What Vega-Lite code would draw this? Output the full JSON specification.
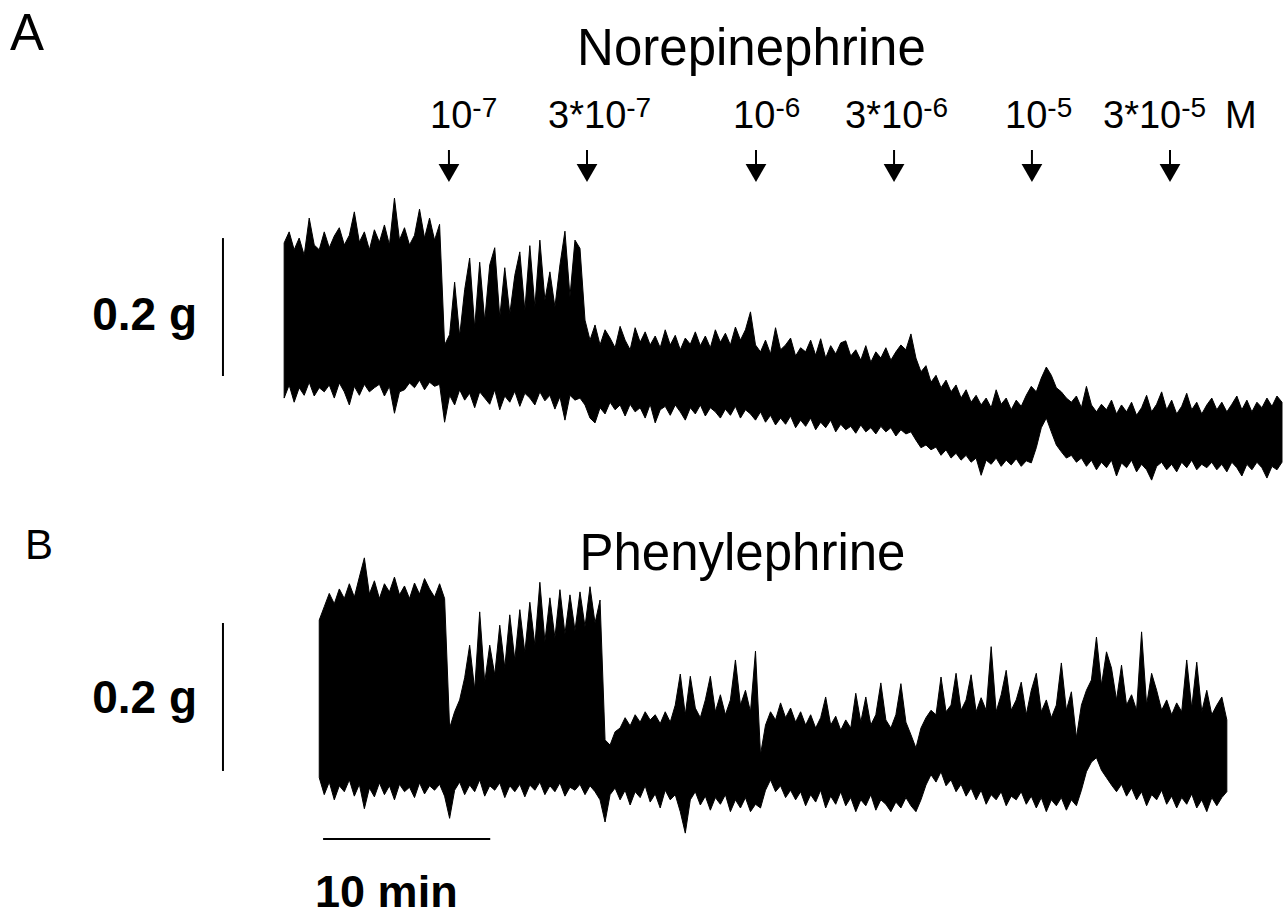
{
"$schema": "https://vega.github.io/schema/vega-lite/v6.json",
"background": "white",
"padding": 0,
"bounds": "flush",
"spacing": 0,
"config": {"view": {"stroke": null}, "font": "Liberation Sans"},
"datasets": {
"traceA": [
{"t":0,"hi":193,"lo":-32},{"t":0.3,"hi":209,"lo":-13},{"t":0.6,"hi":183,"lo":-38},{"t":0.9,"hi":200,"lo":-17},{"t":1.2,"hi":175,"lo":-28},{"t":1.5,"hi":229,"lo":-9},{"t":1.8,"hi":190,"lo":-29},{"t":2.1,"hi":183,"lo":-17},{"t":2.4,"hi":209,"lo":-23},{"t":2.7,"hi":186,"lo":-13},
{"t":3.0,"hi":203,"lo":-32},{"t":3.3,"hi":215,"lo":-10},{"t":3.6,"hi":190,"lo":-23},{"t":3.9,"hi":204,"lo":-42},{"t":4.2,"hi":238,"lo":-15},{"t":4.5,"hi":194,"lo":-28},{"t":4.8,"hi":209,"lo":-12},{"t":5.1,"hi":183,"lo":-23},{"t":5.4,"hi":212,"lo":-17},{"t":5.7,"hi":194,"lo":-12},
{"t":6.0,"hi":219,"lo":-29},{"t":6.3,"hi":190,"lo":-15},{"t":6.6,"hi":258,"lo":-54},{"t":6.9,"hi":197,"lo":-23},{"t":7.2,"hi":215,"lo":-20},{"t":7.5,"hi":190,"lo":-10},{"t":7.8,"hi":204,"lo":-17},{"t":8.1,"hi":242,"lo":-6},{"t":8.4,"hi":200,"lo":-20},{"t":8.7,"hi":229,"lo":-9},
{"t":9.0,"hi":197,"lo":-15},{"t":9.3,"hi":220,"lo":-12},{"t":9.6,"hi":45,"lo":-67},{"t":9.9,"hi":60,"lo":-28},{"t":10.2,"hi":136,"lo":-42},{"t":10.5,"hi":58,"lo":-20},{"t":10.8,"hi":125,"lo":-35},{"t":11.1,"hi":171,"lo":-25},{"t":11.4,"hi":70,"lo":-46},{"t":11.7,"hi":165,"lo":-23},
{"t":12.0,"hi":80,"lo":-32},{"t":12.3,"hi":161,"lo":-41},{"t":12.6,"hi":186,"lo":-20},{"t":12.9,"hi":85,"lo":-49},{"t":13.2,"hi":157,"lo":-29},{"t":13.5,"hi":90,"lo":-38},{"t":13.8,"hi":146,"lo":-22},{"t":14.1,"hi":180,"lo":-44},{"t":14.4,"hi":95,"lo":-25},{"t":14.7,"hi":189,"lo":-32},
{"t":15.0,"hi":100,"lo":-42},{"t":15.3,"hi":197,"lo":-23},{"t":15.6,"hi":110,"lo":-36},{"t":15.9,"hi":151,"lo":-28},{"t":16.2,"hi":100,"lo":-48},{"t":16.5,"hi":161,"lo":-30},{"t":16.8,"hi":210,"lo":-64},{"t":17.1,"hi":115,"lo":-28},{"t":17.4,"hi":197,"lo":-35},{"t":17.7,"hi":185,"lo":-32},
{"t":18.0,"hi":81,"lo":-42},{"t":18.3,"hi":52,"lo":-61},{"t":18.6,"hi":74,"lo":-68},{"t":18.9,"hi":45,"lo":-46},{"t":19.2,"hi":67,"lo":-55},{"t":19.5,"hi":55,"lo":-38},{"t":19.8,"hi":41,"lo":-49},{"t":20.1,"hi":72,"lo":-42},{"t":20.4,"hi":52,"lo":-58},{"t":20.7,"hi":38,"lo":-41},
{"t":21.0,"hi":70,"lo":-52},{"t":21.3,"hi":49,"lo":-46},{"t":21.6,"hi":64,"lo":-61},{"t":21.9,"hi":45,"lo":-41},{"t":22.2,"hi":58,"lo":-68},{"t":22.5,"hi":41,"lo":-49},{"t":22.8,"hi":67,"lo":-44},{"t":23.1,"hi":45,"lo":-57},{"t":23.4,"hi":59,"lo":-42},{"t":23.7,"hi":38,"lo":-52},
{"t":24.0,"hi":55,"lo":-64},{"t":24.3,"hi":46,"lo":-46},{"t":24.6,"hi":64,"lo":-55},{"t":24.9,"hi":44,"lo":-42},{"t":25.2,"hi":58,"lo":-58},{"t":25.5,"hi":41,"lo":-46},{"t":25.8,"hi":67,"lo":-52},{"t":26.1,"hi":49,"lo":-61},{"t":26.4,"hi":62,"lo":-48},{"t":26.7,"hi":45,"lo":-57},
{"t":27.0,"hi":71,"lo":-44},{"t":27.3,"hi":52,"lo":-61},{"t":27.6,"hi":67,"lo":-49},{"t":27.9,"hi":93,"lo":-55},{"t":28.2,"hi":45,"lo":-64},{"t":28.5,"hi":35,"lo":-52},{"t":28.8,"hi":52,"lo":-67},{"t":29.1,"hi":32,"lo":-57},{"t":29.4,"hi":70,"lo":-71},{"t":29.7,"hi":38,"lo":-61},
{"t":30.0,"hi":45,"lo":-70},{"t":30.3,"hi":55,"lo":-58},{"t":30.6,"hi":29,"lo":-75},{"t":30.9,"hi":41,"lo":-64},{"t":31.2,"hi":35,"lo":-73},{"t":31.5,"hi":52,"lo":-61},{"t":31.8,"hi":30,"lo":-78},{"t":32.1,"hi":54,"lo":-67},{"t":32.4,"hi":26,"lo":-75},{"t":32.7,"hi":44,"lo":-64},
{"t":33.0,"hi":32,"lo":-81},{"t":33.3,"hi":48,"lo":-70},{"t":33.6,"hi":51,"lo":-78},{"t":33.9,"hi":29,"lo":-73},{"t":34.2,"hi":38,"lo":-83},{"t":34.5,"hi":23,"lo":-71},{"t":34.8,"hi":44,"lo":-81},{"t":35.1,"hi":20,"lo":-75},{"t":35.4,"hi":35,"lo":-84},{"t":35.7,"hi":26,"lo":-73},
{"t":36.0,"hi":41,"lo":-81},{"t":36.3,"hi":23,"lo":-75},{"t":36.6,"hi":35,"lo":-87},{"t":36.9,"hi":45,"lo":-78},{"t":37.2,"hi":38,"lo":-84},{"t":37.5,"hi":61,"lo":-81},{"t":37.8,"hi":26,"lo":-93},{"t":38.1,"hi":6,"lo":-104},{"t":38.4,"hi":15,"lo":-100},{"t":38.7,"hi":-9,"lo":-107},
{"t":39.0,"hi":1,"lo":-103},{"t":39.3,"hi":-17,"lo":-115},{"t":39.6,"hi":-6,"lo":-107},{"t":39.9,"hi":-23,"lo":-119},{"t":40.2,"hi":-13,"lo":-112},{"t":40.5,"hi":-32,"lo":-122},{"t":40.8,"hi":-20,"lo":-115},{"t":41.1,"hi":-38,"lo":-125},{"t":41.4,"hi":-28,"lo":-119},{"t":41.7,"hi":-42,"lo":-144},
{"t":42.0,"hi":-32,"lo":-122},{"t":42.3,"hi":-46,"lo":-128},{"t":42.6,"hi":-20,"lo":-119},{"t":42.9,"hi":-41,"lo":-131},{"t":43.2,"hi":-32,"lo":-122},{"t":43.5,"hi":-49,"lo":-129},{"t":43.8,"hi":-35,"lo":-120},{"t":44.1,"hi":-44,"lo":-131},{"t":44.4,"hi":-28,"lo":-123},{"t":44.7,"hi":-15,"lo":-126},
{"t":45.0,"hi":-23,"lo":-104},{"t":45.3,"hi":-3,"lo":-75},{"t":45.6,"hi":13,"lo":-61},{"t":45.9,"hi":1,"lo":-81},{"t":46.2,"hi":-17,"lo":-100},{"t":46.5,"hi":-23,"lo":-110},{"t":46.8,"hi":-32,"lo":-119},{"t":47.1,"hi":-38,"lo":-115},{"t":47.4,"hi":-29,"lo":-125},{"t":47.7,"hi":-46,"lo":-119},
{"t":48.0,"hi":-15,"lo":-131},{"t":48.3,"hi":-42,"lo":-122},{"t":48.6,"hi":-52,"lo":-136},{"t":48.9,"hi":-41,"lo":-125},{"t":49.2,"hi":-49,"lo":-133},{"t":49.5,"hi":-35,"lo":-122},{"t":49.8,"hi":-55,"lo":-145},{"t":50.1,"hi":-42,"lo":-126},{"t":50.4,"hi":-52,"lo":-133},{"t":50.7,"hi":-38,"lo":-122},
{"t":51.0,"hi":-57,"lo":-139},{"t":51.3,"hi":-46,"lo":-128},{"t":51.6,"hi":-28,"lo":-136},{"t":51.9,"hi":-52,"lo":-151},{"t":52.2,"hi":-41,"lo":-131},{"t":52.5,"hi":-23,"lo":-125},{"t":52.8,"hi":-49,"lo":-136},{"t":53.1,"hi":-35,"lo":-128},{"t":53.4,"hi":-55,"lo":-139},{"t":53.7,"hi":-44,"lo":-125},
{"t":54.0,"hi":-25,"lo":-133},{"t":54.3,"hi":-49,"lo":-122},{"t":54.6,"hi":-38,"lo":-136},{"t":54.9,"hi":-55,"lo":-128},{"t":55.2,"hi":-42,"lo":-133},{"t":55.5,"hi":-32,"lo":-125},{"t":55.8,"hi":-49,"lo":-136},{"t":56.1,"hi":-38,"lo":-128},{"t":56.4,"hi":-52,"lo":-139},{"t":56.7,"hi":-41,"lo":-125},
{"t":57.0,"hi":-29,"lo":-133},{"t":57.3,"hi":-49,"lo":-145},{"t":57.6,"hi":-35,"lo":-128},{"t":57.9,"hi":-52,"lo":-136},{"t":58.2,"hi":-38,"lo":-125},{"t":58.5,"hi":-46,"lo":-133},{"t":58.8,"hi":-32,"lo":-148},{"t":59.1,"hi":-44,"lo":-131},{"t":59.4,"hi":-29,"lo":-136},{"t":59.7,"hi":-38,"lo":-125}
],
"traceB": [
{"t":2.1,"hi":204,"lo":-9},{"t":2.4,"hi":222,"lo":-32},{"t":2.7,"hi":240,"lo":-15},
{"t":3.0,"hi":226,"lo":-39},{"t":3.3,"hi":246,"lo":-20},{"t":3.6,"hi":233,"lo":-28},{"t":3.9,"hi":253,"lo":-12},{"t":4.2,"hi":235,"lo":-34},{"t":4.5,"hi":262,"lo":-18},{"t":4.8,"hi":288,"lo":-51},{"t":5.1,"hi":239,"lo":-23},{"t":5.4,"hi":257,"lo":-35},{"t":5.7,"hi":233,"lo":-16},
{"t":6.0,"hi":253,"lo":-32},{"t":6.3,"hi":242,"lo":-20},{"t":6.6,"hi":262,"lo":-39},{"t":6.9,"hi":238,"lo":-18},{"t":7.2,"hi":250,"lo":-28},{"t":7.5,"hi":233,"lo":-22},{"t":7.8,"hi":254,"lo":-36},{"t":8.1,"hi":239,"lo":-16},{"t":8.4,"hi":260,"lo":-31},{"t":8.7,"hi":246,"lo":-20},
{"t":9.0,"hi":235,"lo":-26},{"t":9.3,"hi":253,"lo":-18},{"t":9.6,"hi":233,"lo":-34},{"t":9.9,"hi":58,"lo":-64},{"t":10.2,"hi":80,"lo":-26},{"t":10.5,"hi":96,"lo":-15},{"t":10.8,"hi":126,"lo":-32},{"t":11.1,"hi":170,"lo":-19},{"t":11.4,"hi":110,"lo":-28},{"t":11.7,"hi":215,"lo":-12},
{"t":12.0,"hi":120,"lo":-34},{"t":12.3,"hi":170,"lo":-20},{"t":12.6,"hi":130,"lo":-26},{"t":12.9,"hi":197,"lo":-16},{"t":13.2,"hi":140,"lo":-36},{"t":13.5,"hi":211,"lo":-20},{"t":13.8,"hi":150,"lo":-28},{"t":14.1,"hi":218,"lo":-18},{"t":14.4,"hi":160,"lo":-35},{"t":14.7,"hi":228,"lo":-19},
{"t":15.0,"hi":170,"lo":-26},{"t":15.3,"hi":255,"lo":-15},{"t":15.6,"hi":175,"lo":-32},{"t":15.9,"hi":234,"lo":-20},{"t":16.2,"hi":180,"lo":-28},{"t":16.5,"hi":245,"lo":-16},{"t":16.8,"hi":185,"lo":-34},{"t":17.1,"hi":238,"lo":-22},{"t":17.4,"hi":190,"lo":-26},{"t":17.7,"hi":242,"lo":-18},
{"t":18.0,"hi":195,"lo":-32},{"t":18.3,"hi":249,"lo":-20},{"t":18.6,"hi":200,"lo":-28},{"t":18.9,"hi":231,"lo":-39},{"t":19.2,"hi":42,"lo":-69},{"t":19.5,"hi":35,"lo":-32},{"t":19.8,"hi":53,"lo":-23},{"t":20.1,"hi":58,"lo":-39},{"t":20.4,"hi":72,"lo":-26},{"t":20.7,"hi":61,"lo":-46},
{"t":21.0,"hi":76,"lo":-28},{"t":21.3,"hi":66,"lo":-36},{"t":21.6,"hi":80,"lo":-20},{"t":21.9,"hi":69,"lo":-42},{"t":22.2,"hi":76,"lo":-31},{"t":22.5,"hi":64,"lo":-50},{"t":22.8,"hi":80,"lo":-26},{"t":23.1,"hi":66,"lo":-39},{"t":23.4,"hi":89,"lo":-32},{"t":23.7,"hi":131,"lo":-55},
{"t":24.0,"hi":76,"lo":-84},{"t":24.3,"hi":128,"lo":-39},{"t":24.6,"hi":85,"lo":-28},{"t":24.9,"hi":72,"lo":-46},{"t":25.2,"hi":96,"lo":-34},{"t":25.5,"hi":128,"lo":-53},{"t":25.8,"hi":80,"lo":-36},{"t":26.1,"hi":103,"lo":-45},{"t":26.4,"hi":76,"lo":-32},{"t":26.7,"hi":96,"lo":-55},
{"t":27.0,"hi":150,"lo":-39},{"t":27.3,"hi":89,"lo":-50},{"t":27.6,"hi":109,"lo":-36},{"t":27.9,"hi":80,"lo":-55},{"t":28.2,"hi":162,"lo":-45},{"t":28.5,"hi":22,"lo":-50},{"t":28.8,"hi":62,"lo":-26},{"t":29.1,"hi":80,"lo":-12},{"t":29.4,"hi":69,"lo":-28},{"t":29.7,"hi":92,"lo":-20},
{"t":30.0,"hi":72,"lo":-36},{"t":30.3,"hi":85,"lo":-26},{"t":30.6,"hi":66,"lo":-39},{"t":30.9,"hi":80,"lo":-28},{"t":31.2,"hi":62,"lo":-47},{"t":31.5,"hi":76,"lo":-32},{"t":31.8,"hi":58,"lo":-42},{"t":32.1,"hi":72,"lo":-26},{"t":32.4,"hi":100,"lo":-50},{"t":32.7,"hi":62,"lo":-34},
{"t":33.0,"hi":74,"lo":-45},{"t":33.3,"hi":55,"lo":-28},{"t":33.6,"hi":69,"lo":-47},{"t":33.9,"hi":58,"lo":-36},{"t":34.2,"hi":105,"lo":-55},{"t":34.5,"hi":66,"lo":-39},{"t":34.8,"hi":100,"lo":-47},{"t":35.1,"hi":62,"lo":-32},{"t":35.4,"hi":76,"lo":-53},{"t":35.7,"hi":119,"lo":-39},
{"t":36.0,"hi":69,"lo":-45},{"t":36.3,"hi":58,"lo":-55},{"t":36.6,"hi":76,"lo":-42},{"t":36.9,"hi":118,"lo":-50},{"t":37.2,"hi":66,"lo":-36},{"t":37.5,"hi":49,"lo":-47},{"t":37.8,"hi":31,"lo":-55},{"t":38.1,"hi":58,"lo":-39},{"t":38.4,"hi":72,"lo":-19},{"t":38.7,"hi":82,"lo":-5},
{"t":39.0,"hi":76,"lo":-15},{"t":39.3,"hi":127,"lo":-1},{"t":39.6,"hi":80,"lo":-20},{"t":39.9,"hi":89,"lo":-12},{"t":40.2,"hi":132,"lo":-28},{"t":40.5,"hi":82,"lo":-18},{"t":40.8,"hi":96,"lo":-34},{"t":41.1,"hi":130,"lo":-23},{"t":41.4,"hi":80,"lo":-39},{"t":41.7,"hi":99,"lo":-26},
{"t":42.0,"hi":82,"lo":-45},{"t":42.3,"hi":168,"lo":-32},{"t":42.6,"hi":80,"lo":-39},{"t":42.9,"hi":103,"lo":-28},{"t":43.2,"hi":136,"lo":-47},{"t":43.5,"hi":82,"lo":-34},{"t":43.8,"hi":96,"lo":-39},{"t":44.1,"hi":120,"lo":-28},{"t":44.4,"hi":76,"lo":-45},{"t":44.7,"hi":109,"lo":-34},
{"t":45.0,"hi":132,"lo":-50},{"t":45.3,"hi":80,"lo":-36},{"t":45.6,"hi":96,"lo":-55},{"t":45.9,"hi":72,"lo":-39},{"t":46.2,"hi":89,"lo":-47},{"t":46.5,"hi":146,"lo":-36},{"t":46.8,"hi":82,"lo":-53},{"t":47.1,"hi":107,"lo":-39},{"t":47.4,"hi":45,"lo":-47},{"t":47.7,"hi":89,"lo":-26},
{"t":48.0,"hi":109,"lo":-1},{"t":48.3,"hi":123,"lo":12},{"t":48.6,"hi":181,"lo":18},{"t":48.9,"hi":116,"lo":1},{"t":49.2,"hi":161,"lo":-9},{"t":49.5,"hi":139,"lo":-19},{"t":49.8,"hi":96,"lo":-28},{"t":50.1,"hi":143,"lo":-18},{"t":50.4,"hi":89,"lo":-34},{"t":50.7,"hi":103,"lo":-23},
{"t":51.0,"hi":82,"lo":-39},{"t":51.3,"hi":188,"lo":-28},{"t":51.6,"hi":89,"lo":-47},{"t":51.9,"hi":132,"lo":-32},{"t":52.2,"hi":109,"lo":-39},{"t":52.5,"hi":82,"lo":-26},{"t":52.8,"hi":96,"lo":-45},{"t":53.1,"hi":76,"lo":-34},{"t":53.4,"hi":92,"lo":-50},{"t":53.7,"hi":80,"lo":-36},
{"t":54.0,"hi":150,"lo":-45},{"t":54.3,"hi":85,"lo":-31},{"t":54.6,"hi":147,"lo":-50},{"t":54.9,"hi":80,"lo":-39},{"t":55.2,"hi":109,"lo":-55},{"t":55.5,"hi":76,"lo":-36},{"t":55.8,"hi":89,"lo":-47},{"t":56.1,"hi":100,"lo":-36},{"t":56.4,"hi":69,"lo":-28}
],
"doses": [
{"drug_t":9.86,"label_t":11.26,"base":"10","exp":"-7"},
{"drug_t":18.12,"label_t":20.47,"base":"3*10","exp":"-7"},
{"drug_t":28.23,"label_t":29.39,"base":"10","exp":"-6"},
{"drug_t":36.49,"label_t":38.24,"base":"3*10","exp":"-6"},
{"drug_t":44.74,"label_t":45.66,"base":"10","exp":"-5"},
{"drug_t":53.0,"label_t":53.67,"base":"3*10","exp":"-5"}
]
},
"vconcat": [
{
"width": 1287, "height": 500,
"layer": [
{"data": {"name": "traceA"},
 "mark": {"type": "area", "color": "black", "stroke": "black", "strokeWidth": 1, "interpolate": "linear"},
 "encoding": {
  "x": {"field": "t", "type": "quantitative", "scale": {"domain": [-17, 60], "nice": false, "zero": false}, "axis": null},
  "y": {"field": "hi", "type": "quantitative", "scale": {"domain": [-179.8, 545.2], "nice": false, "zero": false}, "axis": null},
  "y2": {"field": "lo"}}},
{"data": {"name": "doses"},
 "mark": {"type": "rule", "color": "black", "strokeWidth": 2},
 "encoding": {
  "x": {"field": "drug_t", "type": "quantitative", "scale": {"domain": [-17, 60], "nice": false, "zero": false}, "axis": null},
  "y": {"datum": 327.7, "type": "quantitative", "scale": {"domain": [-179.8, 545.2], "nice": false, "zero": false}, "axis": null},
  "y2": {"datum": 304.5}}},
{"data": {"name": "doses"},
 "mark": {"type": "point", "shape": "triangle-down", "filled": true, "color": "black", "opacity": 1, "size": 430, "strokeWidth": 0},
 "encoding": {
  "x": {"field": "drug_t", "type": "quantitative", "scale": {"domain": [-17, 60], "nice": false, "zero": false}, "axis": null},
  "y": {"datum": 294.4, "type": "quantitative", "scale": {"domain": [-179.8, 545.2], "nice": false, "zero": false}, "axis": null}}},
{"data": {"name": "doses"},
 "mark": {"type": "text", "align": "right", "baseline": "alphabetic", "fontSize": 38, "color": "black"},
 "encoding": {
  "x": {"field": "label_t", "type": "quantitative", "scale": {"domain": [-17, 60], "nice": false, "zero": false}, "axis": null},
  "y": {"datum": 359.2, "type": "quantitative", "scale": {"domain": [-179.8, 545.2], "nice": false, "zero": false}, "axis": null},
  "text": {"field": "base"}}},
{"data": {"name": "doses"},
 "mark": {"type": "text", "align": "left", "baseline": "alphabetic", "fontSize": 28, "color": "black"},
 "encoding": {
  "x": {"field": "label_t", "type": "quantitative", "scale": {"domain": [-17, 60], "nice": false, "zero": false}, "axis": null},
  "y": {"datum": 375.5, "type": "quantitative", "scale": {"domain": [-179.8, 545.2], "nice": false, "zero": false}, "axis": null},
  "text": {"field": "exp"}}},
{"data": {"values": [{"label": "M"}]},
 "mark": {"type": "text", "align": "left", "baseline": "alphabetic", "fontSize": 38, "color": "black"},
 "encoding": {
  "x": {"datum": 56.29, "type": "quantitative", "scale": {"domain": [-17, 60], "nice": false, "zero": false}, "axis": null},
  "y": {"datum": 359.2, "type": "quantitative", "scale": {"domain": [-179.8, 545.2], "nice": false, "zero": false}, "axis": null},
  "text": {"field": "label"}}},
{"data": {"values": [{"label": "Norepinephrine"}]},
 "mark": {"type": "text", "align": "center", "baseline": "alphabetic", "fontSize": 51, "color": "black"},
 "encoding": {
  "x": {"datum": 27.96, "type": "quantitative", "scale": {"domain": [-17, 60], "nice": false, "zero": false}, "axis": null},
  "y": {"datum": 451, "type": "quantitative", "scale": {"domain": [-179.8, 545.2], "nice": false, "zero": false}, "axis": null},
  "text": {"field": "label"}}},
{"data": {"values": [{"label": "A"}]},
 "mark": {"type": "text", "align": "left", "baseline": "alphabetic", "fontSize": 51, "color": "black"},
 "encoding": {
  "x": {"datum": -16.4, "type": "quantitative", "scale": {"domain": [-17, 60], "nice": false, "zero": false}, "axis": null},
  "y": {"datum": 472.7, "type": "quantitative", "scale": {"domain": [-179.8, 545.2], "nice": false, "zero": false}, "axis": null},
  "text": {"field": "label"}}},
{"data": {"values": [{"label": "0.2 g"}]},
 "mark": {"type": "text", "align": "right", "baseline": "alphabetic", "fontSize": 46, "fontWeight": "bold", "color": "black"},
 "encoding": {
  "x": {"datum": -5.21, "type": "quantitative", "scale": {"domain": [-17, 60], "nice": false, "zero": false}, "axis": null},
  "y": {"datum": 66.7, "type": "quantitative", "scale": {"domain": [-179.8, 545.2], "nice": false, "zero": false}, "axis": null},
  "text": {"field": "label"}}},
{"data": {"values": [{"bar": "0.2 g"}]},
 "mark": {"type": "rule", "color": "black", "strokeWidth": 2},
 "encoding": {
  "x": {"datum": -3.66, "type": "quantitative", "scale": {"domain": [-17, 60], "nice": false, "zero": false}, "axis": null},
  "y": {"datum": 0, "type": "quantitative", "scale": {"domain": [-179.8, 545.2], "nice": false, "zero": false}, "axis": null},
  "y2": {"datum": 200}}}
]
},
{
"width": 1287, "height": 420,
"layer": [
{"data": {"name": "traceB"},
 "mark": {"type": "area", "color": "black", "stroke": "black", "strokeWidth": 1, "interpolate": "linear"},
 "encoding": {
  "x": {"field": "t", "type": "quantitative", "scale": {"domain": [-17, 60], "nice": false, "zero": false}, "axis": null},
  "y": {"field": "hi", "type": "quantitative", "scale": {"domain": [-201.4, 366.2], "nice": false, "zero": false}, "axis": null},
  "y2": {"field": "lo"}}},
{"data": {"values": [{"label": "Phenylephrine"}]},
 "mark": {"type": "text", "align": "center", "baseline": "alphabetic", "fontSize": 51, "color": "black"},
 "encoding": {
  "x": {"datum": 27.42, "type": "quantitative", "scale": {"domain": [-17, 60], "nice": false, "zero": false}, "axis": null},
  "y": {"datum": 271.6, "type": "quantitative", "scale": {"domain": [-201.4, 366.2], "nice": false, "zero": false}, "axis": null},
  "text": {"field": "label"}}},
{"data": {"values": [{"label": "B"}]},
 "mark": {"type": "text", "align": "left", "baseline": "alphabetic", "fontSize": 42, "color": "black"},
 "encoding": {
  "x": {"datum": -15.5, "type": "quantitative", "scale": {"domain": [-17, 60], "nice": false, "zero": false}, "axis": null},
  "y": {"datum": 286.1, "type": "quantitative", "scale": {"domain": [-201.4, 366.2], "nice": false, "zero": false}, "axis": null},
  "text": {"field": "label"}}},
{"data": {"values": [{"label": "0.2 g"}]},
 "mark": {"type": "text", "align": "right", "baseline": "alphabetic", "fontSize": 46, "fontWeight": "bold", "color": "black"},
 "encoding": {
  "x": {"datum": -5.21, "type": "quantitative", "scale": {"domain": [-17, 60], "nice": false, "zero": false}, "axis": null},
  "y": {"datum": 78.4, "type": "quantitative", "scale": {"domain": [-201.4, 366.2], "nice": false, "zero": false}, "axis": null},
  "text": {"field": "label"}}},
{"data": {"values": [{"bar": "0.2 g"}]},
 "mark": {"type": "rule", "color": "black", "strokeWidth": 2},
 "encoding": {
  "x": {"datum": -3.66, "type": "quantitative", "scale": {"domain": [-17, 60], "nice": false, "zero": false}, "axis": null},
  "y": {"datum": 0, "type": "quantitative", "scale": {"domain": [-201.4, 366.2], "nice": false, "zero": false}, "axis": null},
  "y2": {"datum": 200}}},
{"data": {"values": [{"bar": "10 min"}]},
 "mark": {"type": "rule", "color": "black", "strokeWidth": 2},
 "encoding": {
  "x": {"datum": 2.33, "type": "quantitative", "scale": {"domain": [-17, 60], "nice": false, "zero": false}, "axis": null},
  "x2": {"datum": 12.33},
  "y": {"datum": -91.9, "type": "quantitative", "scale": {"domain": [-201.4, 366.2], "nice": false, "zero": false}, "axis": null}}},
{"data": {"values": [{"label": "10 min"}]},
 "mark": {"type": "text", "align": "left", "baseline": "alphabetic", "fontSize": 45, "fontWeight": "bold", "color": "black"},
 "encoding": {
  "x": {"datum": 1.85, "type": "quantitative", "scale": {"domain": [-17, 60], "nice": false, "zero": false}, "axis": null},
  "y": {"datum": -183.8, "type": "quantitative", "scale": {"domain": [-201.4, 366.2], "nice": false, "zero": false}, "axis": null},
  "text": {"field": "label"}}}
]
}
]
}
